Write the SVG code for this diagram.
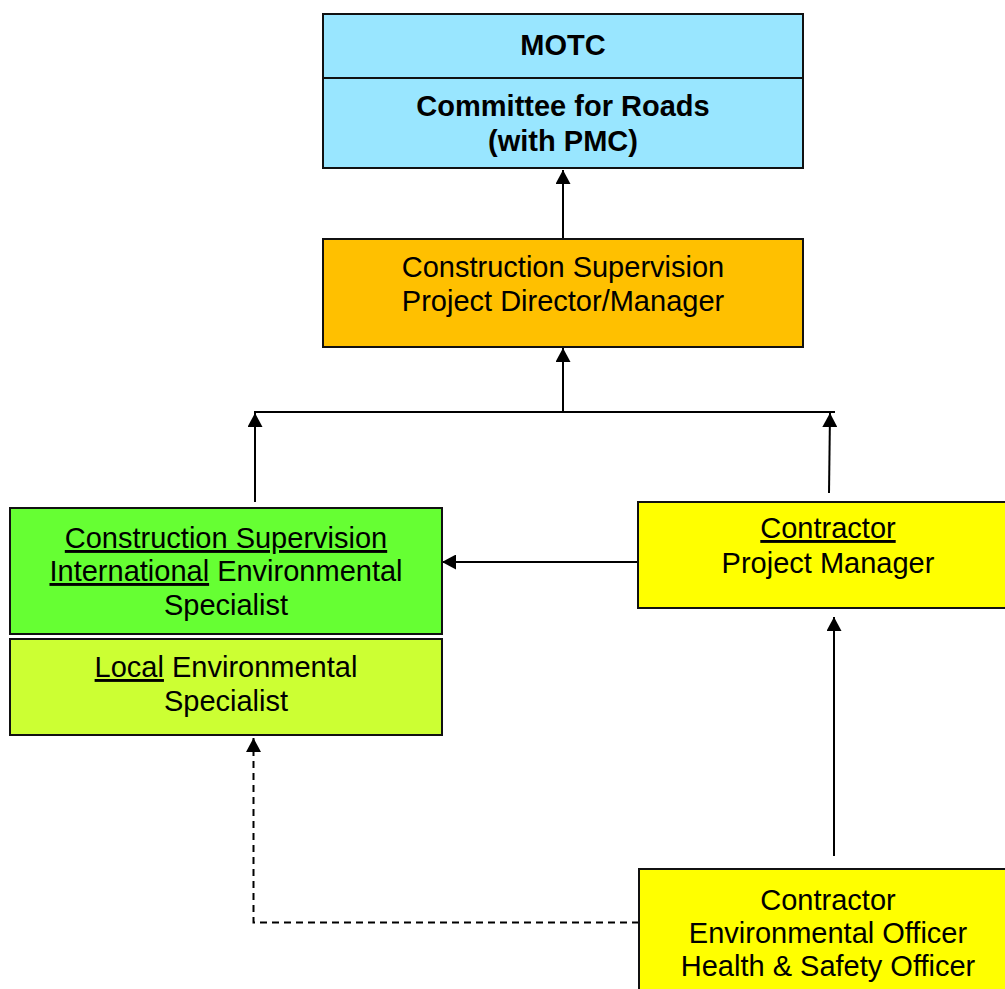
<svg xmlns="http://www.w3.org/2000/svg" width="1005" height="989" viewBox="0 0 1005 989">
<style>
.box{stroke:#111;stroke-width:2}
.t{font-family:"Liberation Sans",Arial,sans-serif;font-size:29px;fill:#000;text-anchor:middle}
.b{font-weight:bold}
.u{text-decoration:underline}
.c{stroke:#000;stroke-width:2;fill:none}
.d{stroke-dasharray:7 5}
</style>
<defs>
<marker id="ah" viewBox="0 0 14 15" refX="14" refY="7.5" markerWidth="14" markerHeight="15" markerUnits="userSpaceOnUse" orient="auto">
<path d="M0,0 L14,7.5 L0,15 Z" fill="#000"/>
</marker>
</defs>
<rect width="1005" height="989" fill="#fff"/>
<g id="connectors">
<line class="c" x1="563" y1="239" x2="563" y2="170" marker-end="url(#ah)"/>
<line class="c" x1="563" y1="412" x2="563" y2="348" marker-end="url(#ah)"/>
<line class="c" x1="254" y1="412" x2="835" y2="412"/>
<line class="c" x1="255" y1="502" x2="255" y2="413" marker-end="url(#ah)"/>
<line class="c" x1="829" y1="493" x2="830" y2="413" marker-end="url(#ah)"/>
<line class="c" x1="638" y1="562" x2="442" y2="562" marker-end="url(#ah)"/>
<line class="c" x1="834" y1="856" x2="834" y2="617" marker-end="url(#ah)"/>
<path class="c d" d="M639,922.5 H253.5 V738" marker-end="url(#ah)"/>
</g>
<g id="motc">
<rect class="box" x="323" y="14" width="480" height="154" fill="#99E6FF"/>
<line class="box" x1="323" y1="78" x2="803" y2="78"/>
<text class="t b" x="563" y="55">MOTC</text>
<text class="t b" x="563" y="116">Committee for Roads</text>
<text class="t b" x="563" y="151">(with PMC)</text>
</g>
<g id="cs-director">
<rect class="box" x="323" y="239" width="480" height="108" fill="#FFC000"/>
<text class="t" x="563" y="277">Construction Supervision</text>
<text class="t" x="563" y="311">Project Director/Manager</text>
</g>
<g id="cs-intl-env">
<rect class="box" x="10" y="508" width="432" height="126" fill="#66FF33"/>
<text class="t" x="226" y="548"><tspan class="u">Construction Supervision</tspan></text>
<text class="t" x="226" y="581"><tspan class="u">International</tspan> Environmental</text>
<text class="t" x="226" y="615">Specialist</text>
</g>
<g id="local-env">
<rect class="box" x="10" y="639" width="432" height="96" fill="#CCFF33"/>
<text class="t" x="226" y="677"><tspan class="u">Local</tspan> Environmental</text>
<text class="t" x="226" y="711">Specialist</text>
</g>
<g id="contractor-pm">
<rect class="box" x="638" y="502" width="380" height="106" fill="#FFFF00"/>
<text class="t" x="828" y="538"><tspan class="u">Contractor</tspan></text>
<text class="t" x="828" y="573">Project Manager</text>
</g>
<g id="contractor-eo">
<rect class="box" x="639" y="869" width="380" height="130" fill="#FFFF00"/>
<text class="t" x="828" y="910">Contractor</text>
<text class="t" x="828" y="943">Environmental Officer</text>
<text class="t" x="828" y="976">Health &amp; Safety Officer</text>
</g>
</svg>
